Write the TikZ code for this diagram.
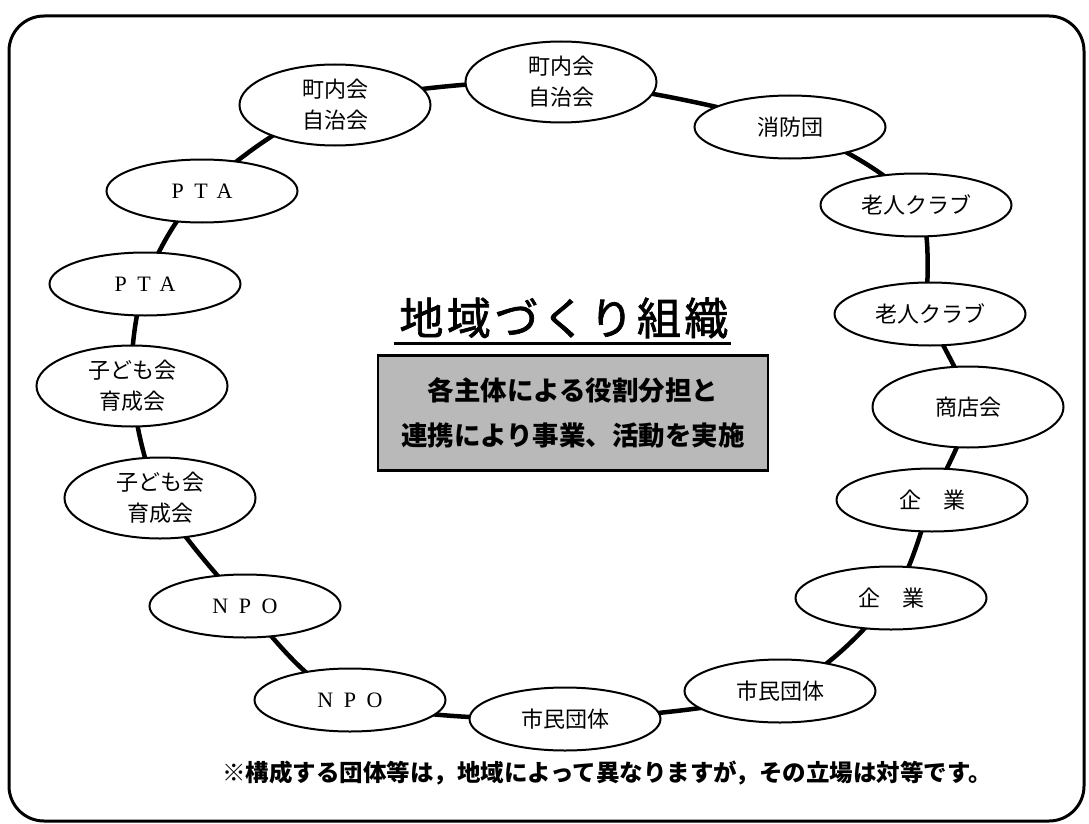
\documentclass[tikz,border=0pt]{standalone}
\usepackage{fontspec}
\setmainfont{Noto Sans CJK JP}
\newfontfamily\romanwide[LetterSpace=48]{Liberation Serif}
\newfontfamily\titlefont[LetterSpace=8,FakeBold=1.6]{Noto Sans CJK JP}
\usetikzlibrary{shapes.geometric,backgrounds}

\tikzset{
  group/.style={ellipse, draw, line width=2pt, fill=white,
    minimum width=191pt, minimum height=63pt, inner sep=0pt,
    align=center, font=\fontsize{22}{31}\selectfont},
  group2/.style={group, minimum height=81pt},
  ring/.style={line width=4.5pt},
}

\begin{document}
\begin{tikzpicture}[x=1pt,y=-1pt]
            \useasboundingbox (0,0) rectangle (1089,824);
            \draw[line width=3pt, rounded corners=35pt] (9,16) rectangle (1084,821);

            % member groups, clockwise from the top
            \node[group2] (chonaiA) at (561,82) {町内会\\自治会};
            \node[group] (shobo) at (790,127) {消防団};
            \node[group] (rojinA) at (916,205) {老人クラブ};
            \node[group] (rojinB) at (930,314) {老人クラブ};
            \node[group2] (shoten) at (968,407) {商店会};
            \node[group] (kigyoA) at (932,500) {企　業};
            \node[group] (kigyoB) at (891,598) {企　業};
            \node[group] (shiminA) at (780,691) {市民団体};
            \node[group] (shiminB) at (565,719) {市民団体};
            \node[group] (npoA) at (350,700) {\romanwide NPO};
            \node[group] (npoB) at (245,606) {\romanwide NPO};
            \node[group2] (kodomoA) at (160,498) {子ども会\\育成会};
            \node[group2] (kodomoB) at (132,386) {子ども会\\育成会};
            \node[group] (ptaA) at (145,284) {\romanwide PTA};
            \node[group] (ptaB) at (202,191) {\romanwide PTA};
            \node[group2] (chonaiB) at (335,105) {町内会\\自治会};

            \begin{pgfonlayer}{background}
                \draw[ring] plot[smooth cycle] coordinates {(chonaiA) (shobo) (rojinA) (rojinB)
                    (shoten) (kigyoA) (kigyoB) (shiminA) (shiminB) (npoA) (npoB)
                    (kodomoA) (kodomoB) (ptaA) (ptaB) (chonaiB)};
            \end{pgfonlayer}

            % centre
            \node (title) at (564,318) {\titlefont\fontsize{44}{44}\selectfont 地域づくり組織};
            \draw[line width=3pt] (394,343) -- (731,343);
            \node[draw, line width=2.5pt, fill=gray!55, minimum width=390pt, minimum height=115pt,
                align=center, font=\bfseries\fontsize{26.5}{45}\selectfont] (task) at (573,413)
                {各主体による役割分担と\\連携により事業、活動を実施};

            \node[font=\bfseries\fontsize{23.5}{24}\selectfont] (note) at (607,773)
                {※構成する団体等は，地域によって異なりますが，その立場は対等です。};
        \end{tikzpicture}
\end{document}
